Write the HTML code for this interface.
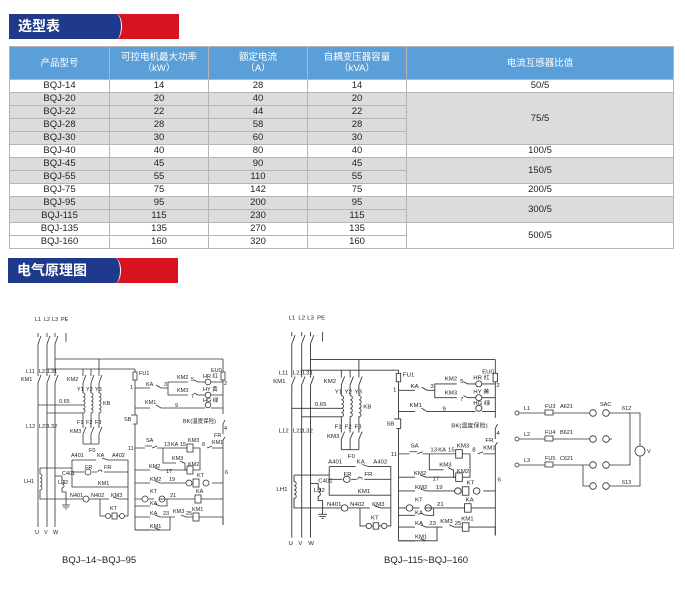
<!DOCTYPE html>
<html><head><meta charset="utf-8"><style>
body{margin:0;width:685px;height:596px;background:#fff;position:relative;overflow:hidden;font-family:"Liberation Sans","Noto Sans CJK SC",sans-serif}
.ban{position:absolute;width:170px;height:25px;background:#d7131f}
.ban .b{position:absolute;left:0;top:0;width:103px;height:25px;background:#1f3a8c;border-radius:0 6px 6px 0/0 13px 13px 0;border-right:1.5px solid #fff;color:#fff;font-weight:bold;font-size:14px;line-height:25px;padding-left:9px;box-sizing:content-box}
table{position:absolute;left:9px;top:46px;border-collapse:collapse;table-layout:fixed;width:664px}
td,th{border:1px solid #b5b5b5;padding:0;text-align:center;font-size:9.5px;color:#222;height:12px;line-height:12px}
th{background:#5b9fd8;color:#fff;font-weight:normal;height:32px;line-height:11px;font-size:9.5px}
.g td,td.g{background:#dcdcdc}
svg{position:absolute;left:0;top:0}
svg text{font-family:"Liberation Sans","Noto Sans CJK SC",sans-serif;font-size:5.5px;fill:#222}
</style></head><body>
<div class="ban" style="left:9px;top:14px"><div class="b">选型表</div></div>
<table>
<colgroup><col style="width:100px"><col style="width:99px"><col style="width:99px"><col style="width:99px"><col style="width:267px"></colgroup>
<tr><th>产品型号</th><th>可控电机最大功率<br>（kW）</th><th>额定电流<br>（A）</th><th>自耦变压器容量<br>（kVA）</th><th>电流互感器比值</th></tr>
<tr><td>BQJ-14</td><td>14</td><td>28</td><td>14</td><td>50/5</td></tr>
<tr class="g"><td>BQJ-20</td><td>20</td><td>40</td><td>20</td><td rowspan="4">75/5</td></tr>
<tr class="g"><td>BQJ-22</td><td>22</td><td>44</td><td>22</td></tr>
<tr class="g"><td>BQJ-28</td><td>28</td><td>58</td><td>28</td></tr>
<tr class="g"><td>BQJ-30</td><td>30</td><td>60</td><td>30</td></tr>
<tr><td>BQJ-40</td><td>40</td><td>80</td><td>40</td><td>100/5</td></tr>
<tr class="g"><td>BQJ-45</td><td>45</td><td>90</td><td>45</td><td rowspan="2">150/5</td></tr>
<tr class="g"><td>BQJ-55</td><td>55</td><td>110</td><td>55</td></tr>
<tr><td>BQJ-75</td><td>75</td><td>142</td><td>75</td><td>200/5</td></tr>
<tr class="g"><td>BQJ-95</td><td>95</td><td>200</td><td>95</td><td rowspan="2">300/5</td></tr>
<tr class="g"><td>BQJ-115</td><td>115</td><td>230</td><td>115</td></tr>
<tr><td>BQJ-135</td><td>135</td><td>270</td><td>135</td><td rowspan="2">500/5</td></tr>
<tr><td>BQJ-160</td><td>160</td><td>320</td><td>160</td></tr>
</table>
<div class="ban" style="left:8px;top:258px"><div class="b">电气原理图</div></div>

<svg width="685" height="596" viewBox="0 0 685 596">
<defs>
<g id="d1" stroke="#333" stroke-width="0.8" fill="none">
 <path d="M38 333V337M41 336L38 344V376M41 375L38 383V527 M47 333V337M50 336L47 344V376M50 375L47 383V527 M55 333V337M58 336L55 344V376M58 375L55 383V527 M66 333V342"/>
 <path d="M55 359H223 M47 369H135 M38 369"/>
 <path d="M83 369V376M86 375L83 383V393 M91 369V376M94 375L91 383V393 M99 359V376M102 375L99 383V393"/>
 <path d="M83 393a2 2 0 0 1 0 4a2 2 0 0 1 0 4a2 2 0 0 1 0 4a2 2 0 0 1 0 4a2 2 0 0 1 0 4V428M86 427L83 434V444 M91 393a2 2 0 0 1 0 4a2 2 0 0 1 0 4a2 2 0 0 1 0 4a2 2 0 0 1 0 4a2 2 0 0 1 0 4V428M94 427L91 434V444 M99 393a2 2 0 0 1 0 4a2 2 0 0 1 0 4a2 2 0 0 1 0 4a2 2 0 0 1 0 4a2 2 0 0 1 0 4V428M102 427L99 434V444 M83 444H99"/>
 <path d="M38 405H83 M47 413H83"/>
 <path d="M72 460H96M102 458L108 460H128V499 M72 460V487H128 M72 472H84M92 472H97M104 472H128"/>
 <circle cx="88" cy="472" r="3"/><path d="M98 472a2 2 0 0 1 4 0"/>
 <path d="M40 468H72 M40 468V474a2 2 0 0 1 0 4a2 2 0 0 1 0 4a2 2 0 0 1 0 4a2 2 0 0 1 0 4V499H83M89 499H109M113 497L119 499H128"/>
 <circle cx="86" cy="499" r="3"/>
 <path d="M55 476H62V480a2 2 0 0 1 0 4a2 2 0 0 1 0 4V492H66V505 M62 505H70M63 507H69M65 509H67"/>
 <path d="M100 499V516H105M111 516H112M117 516H119M125 516H128V499"/>
 <circle cx="108" cy="516" r="2.5"/><rect x="112" y="513" width="5" height="6"/><circle cx="122" cy="516" r="2.5"/>
 <path d="M135 369V372M135 380V415M135 424V530H170V517 M223 359V372M223 380V414M225 420L223 424V434M225 437L223 440V525"/>
 <rect x="133" y="372" width="4" height="8"/><rect x="221" y="372" width="4" height="8"/>
 <path d="M131 415H137V424H133"/>
 <path d="M135 388H150M156 385L161 388H168V382H188M194 380L198 382H205M211 382H223 M168 388V395H188M194 393L198 395H205M211 395H223"/>
 <circle cx="208" cy="382" r="2.8"/><circle cx="208" cy="395" r="2.8"/>
 <path d="M135 408H150M156 405L161 408H205M211 408H223"/><circle cx="208" cy="405" r="2.8"/>
 <path d="M135 448H145M145 446H152M152 448L157 446M157 448H187M193 448H200M207 448L212 446M212 448H223 M163 448V463H176M180 461L184 463H185V470H187M193 470H200V448"/>
 <rect x="187" y="444" width="6" height="8"/><rect x="187" y="466" width="6" height="8"/>
 <path d="M135 470H150M155 468L160 470H187"/>
 <path d="M135 483H150M155 481L160 483H186M212 483H223"/><circle cx="189" cy="483" r="3"/><rect x="193" y="479" width="6" height="8"/><circle cx="206" cy="483" r="3"/>
 <path d="M135 499H142M148 499H154M159 499H167H195M201 499H223 M135 506H150M155 504L160 506H167V499"/><circle cx="145" cy="499" r="3"/><circle cx="162" cy="499" r="3"/><rect x="195" y="495" width="6" height="8"/>
 <path d="M135 517H150M155 515L160 517H175M181 515L186 517H193M199 517H223V525"/><rect x="193" y="513" width="6" height="8"/>
 <path d="M135 530H150M155 528L160 530"/>
</g>
<g id="d1t">
 <text x="35" y="321">L1</text><text x="44" y="321">L2</text><text x="52" y="321">L3</text><text x="61" y="321">PE</text>
 <text x="26" y="373">L11</text><text x="39" y="373">L21</text><text x="48" y="373">L31</text><text x="21" y="381">KM1</text>
 <text x="26" y="428">L12</text><text x="39" y="428">L22</text><text x="48" y="428">L32</text>
 <text x="35" y="534">U</text><text x="44" y="534">V</text><text x="53" y="534">W</text>
 <text x="67" y="381">KM2</text><text x="77" y="391">Y1</text><text x="86" y="391">Y2</text><text x="95" y="391">Y3</text>
 <text x="59" y="403">0.65</text><text x="103" y="405">KB</text><text x="77" y="424">F1</text><text x="86" y="424">F2</text><text x="95" y="424">F3</text>
 <text x="70" y="433">KM3</text><text x="89" y="452">F0</text>
 <text x="71" y="457">A401</text><text x="97" y="457">KA</text><text x="112" y="457">A402</text>
 <text x="85" y="469">FR</text><text x="104" y="469">FR</text><text x="62" y="475">C401</text><text x="98" y="485">KM1</text>
 <text x="24" y="483">LH1</text><text x="58" y="484">LH2</text><text x="70" y="497">N401</text><text x="91" y="497">N402</text><text x="111" y="497">KM3</text><text x="110" y="510">KT</text>
 <text x="139" y="375">FU1</text><text x="130" y="389">1</text><text x="146" y="386">KA</text><text x="164" y="386">3</text>
 <text x="177" y="379">KM2</text><text x="191" y="381">5</text><text x="203" y="378">HR 红</text><text x="211" y="372">EU0</text><text x="224" y="385">2</text>
 <text x="177" y="392">KM3</text><text x="191" y="398">7</text><text x="203" y="391">HY 黄</text>
 <text x="145" y="404">KM1</text><text x="175" y="407">9</text><text x="203" y="402">HG 绿</text>
 <text x="124" y="421">SB</text><text x="183" y="423">BK(温度保险)</text><text x="224" y="430">4</text><text x="214" y="437">FR</text>
 <text x="128" y="450">11</text><text x="146" y="442">SA</text><text x="164" y="446">13</text><text x="171" y="446">KA</text><text x="180" y="446">15</text><text x="188" y="442">KM3</text><text x="202" y="446">8</text><text x="212" y="444">KM1</text>
 <text x="172" y="460">KM3</text><text x="188" y="466">KM2</text><text x="225" y="474">6</text><text x="149" y="468">KM2</text><text x="166" y="473">17</text>
 <text x="150" y="481">KM2</text><text x="169" y="481">19</text><text x="197" y="477">KT</text>
 <text x="150" y="493">KT</text><text x="170" y="497">21</text><text x="196" y="493">KA</text><text x="150" y="505">KA</text>
 <text x="150" y="515">KA</text><text x="163" y="515">23</text><text x="173" y="513">KM3</text><text x="186" y="515">25</text><text x="192" y="511">KM1</text>
 <text x="150" y="528">KM1</text>
</g>
</defs>
<use href="#d1"/><use href="#d1t"/>
<g transform="translate(250,-21) scale(1.1,1.06)"><use href="#d1"/><use href="#d1t"/></g>
<text x="62" y="563" style="font-size:9.5px">BQJ–14~BQJ–95</text>
<text x="384" y="563" style="font-size:9.5px">BQJ–115~BQJ–160</text>
<g stroke="#333" stroke-width="0.8" fill="none">
 <circle cx="517" cy="413" r="2"/><circle cx="517" cy="439" r="2"/><circle cx="517" cy="465" r="2"/>
 <path d="M519 413H545M553 413H590M609 413H630V465H609 M519 439H545M553 439H590 M519 465H545M553 465H590 M583 465V486H590 M609 486H640V456 M640 446V413H630 M609 439H612"/>
 <rect x="545" y="410" width="8" height="5"/><rect x="545" y="436" width="8" height="5"/><rect x="545" y="462" width="8" height="5"/>
 <circle cx="593" cy="413" r="3.3"/><circle cx="606" cy="413" r="3.3"/><circle cx="593" cy="439" r="3.3"/><circle cx="606" cy="439" r="3.3"/>
 <circle cx="593" cy="465" r="3.3"/><circle cx="606" cy="465" r="3.3"/><circle cx="593" cy="486" r="3.3"/><circle cx="606" cy="486" r="3.3"/>
 <circle cx="640" cy="451" r="5"/>
</g>
<text x="524" y="410">L1</text><text x="545" y="408">FU3</text><text x="560" y="408">A621</text><text x="600" y="406">SAC</text><text x="622" y="410">612</text>
<text x="524" y="436">L2</text><text x="545" y="434">FU4</text><text x="560" y="434">B621</text>
<text x="524" y="462">L3</text><text x="545" y="460">FU5</text><text x="560" y="460">C621</text>
<text x="622" y="484">613</text><text x="647" y="453">V</text>
</svg>
</body></html>
